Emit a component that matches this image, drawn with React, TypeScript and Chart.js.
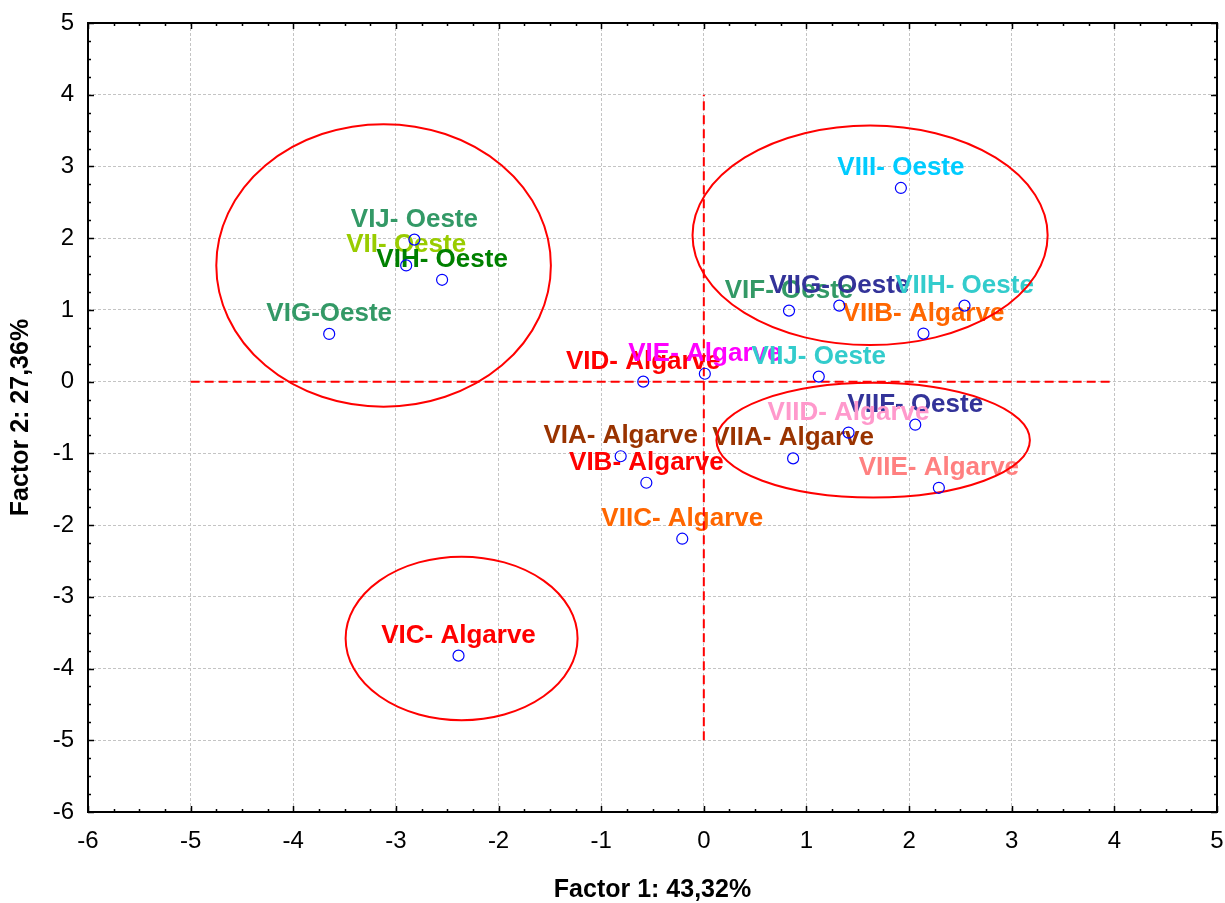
import React, { useEffect, useRef } from "react";
import { Chart, registerables } from "chart.js";

Chart.register(...registerables);

const pointLabels = [
  "VIG-Oeste", "VIJ- Oeste", "VII- Oeste", "VIH- Oeste", "VIC- Algarve",
  "VIA- Algarve", "VIB- Algarve", "VIIC- Algarve", "VID- Algarve", "VIE- Algarve",
  "VIIJ- Oeste", "VIF- Oeste", "VIIG- Oeste", "VIIH- Oeste", "VIIB- Algarve",
  "VIII- Oeste", "VIIF- Oeste", "VIID- Algarve", "VIIA- Algarve", "VIIE- Algarve",
];
const factor1 = [
  -3.65, -2.82, -2.90, -2.55, -2.39,
  -0.81, -0.56, -0.21, -0.59, 0.01,
  1.12, 0.83, 1.32, 2.54, 2.14,
  1.92, 2.06, 1.41, 0.87, 2.29,
];
const factor2 = [
  0.665, 1.98, 1.62, 1.42, -3.82,
  -1.04, -1.41, -2.19, 0.0, 0.11,
  0.07, 0.99, 1.06, 1.06, 0.67,
  2.70, -0.60, -0.71, -1.07, -1.48,
];
const labelColors = [
  "#339966", "#339966", "#99CC00", "#008000", "#FF0000",
  "#993300", "#FF0000", "#FF6600", "#FF0000", "#FF00FF",
  "#33CCCC", "#339966", "#333399", "#33CCCC", "#FF6600",
  "#00CCFF", "#333399", "#FF99CC", "#993300", "#FF8080",
];

// Cluster ellipses (data units)
const ellipseCX = [-3.12, 1.62, 1.65, -2.36];
const ellipseCY = [1.62, 2.04, -0.816, -3.58];
const ellipseRX = [1.63, 1.73, 1.527, 1.13];
const ellipseRY = [1.97, 1.53, 0.80, 1.14];

// Reference dashed axes lines
const hLineY = 0;
const hLineX = [-5, 4];
const vLineX = 0;
const vLineY = [-5, 4];

const xMin = -6, xMax = 5, yMin = -6, yMax = 5;
const xTitle = "Factor 1: 43,32%";
const yTitle = "Factor 2: 27,36%";

const FONT = "'Liberation Sans', Arial, Helvetica, sans-serif";

const overlayPlugin = {
  id: "overlay",
  beforeDatasetsDraw(chart: any) {
    const { ctx } = chart;
    const xs = chart.scales.x;
    const ys = chart.scales.y;
    ctx.save();
    ctx.font = `bold 26px ${FONT}`;
    ctx.textAlign = "center";
    ctx.textBaseline = "alphabetic";
    for (let i = 0; i < pointLabels.length; i++) {
      const px = xs.getPixelForValue(factor1[i]);
      const py = ys.getPixelForValue(factor2[i]);
      ctx.fillStyle = labelColors[i];
      ctx.fillText(pointLabels[i], px, py - 13);
    }
    ctx.strokeStyle = "#FF0000";
    ctx.lineWidth = 2;
    ctx.setLineDash([9, 5]);
    ctx.beginPath();
    ctx.moveTo(xs.getPixelForValue(hLineX[0]), ys.getPixelForValue(hLineY));
    ctx.lineTo(xs.getPixelForValue(hLineX[1]), ys.getPixelForValue(hLineY));
    ctx.stroke();
    ctx.beginPath();
    ctx.moveTo(xs.getPixelForValue(vLineX), ys.getPixelForValue(vLineY[0]));
    ctx.lineTo(xs.getPixelForValue(vLineX), ys.getPixelForValue(vLineY[1]));
    ctx.stroke();
    ctx.setLineDash([]);
    for (let i = 0; i < ellipseCX.length; i++) {
      const cx = xs.getPixelForValue(ellipseCX[i]);
      const cy = ys.getPixelForValue(ellipseCY[i]);
      const rx = Math.abs(xs.getPixelForValue(ellipseCX[i] + ellipseRX[i]) - cx);
      const ry = Math.abs(ys.getPixelForValue(ellipseCY[i] + ellipseRY[i]) - cy);
      ctx.beginPath();
      ctx.ellipse(cx, cy, rx, ry, 0, 0, Math.PI * 2);
      ctx.stroke();
    }
    ctx.restore();
  },
  afterDraw(chart: any) {
    const { ctx, chartArea } = chart;
    const { left, right, top, bottom } = chartArea;
    const xs = chart.scales.x;
    const ys = chart.scales.y;
    ctx.save();
    ctx.strokeStyle = "#000";
    ctx.lineWidth = 2;
    ctx.strokeRect(left, top, right - left, bottom - top);
    ctx.lineWidth = 1.5;
    ctx.beginPath();
    for (let i = xMin * 4; i <= xMax * 4; i++) {
      const v = i / 4;
      const len = i % 4 === 0 ? 6 : 3;
      const p = Math.round(xs.getPixelForValue(v)) + 0.5;
      ctx.moveTo(p, bottom);
      ctx.lineTo(p, bottom - len);
      ctx.moveTo(p, top);
      ctx.lineTo(p, top + len);
    }
    for (let i = yMin * 4; i <= yMax * 4; i++) {
      const v = i / 4;
      const len = i % 4 === 0 ? 6 : 3;
      const p = Math.round(ys.getPixelForValue(v)) + 0.5;
      ctx.moveTo(left, p);
      ctx.lineTo(left + len, p);
      ctx.moveTo(right, p);
      ctx.lineTo(right - len, p);
    }
    ctx.stroke();
    ctx.restore();
  },
};

export default function App() {
  const canvasRef = useRef<HTMLCanvasElement>(null);
  useEffect(() => {
    if (!canvasRef.current) return;
    const data = factor1.map((x, i) => ({ x, y: factor2[i] }));
    const chart = new Chart(canvasRef.current, {
      type: "scatter",
      data: {
        datasets: [
          {
            data,
            pointStyle: "circle",
            pointRadius: 5.5,
            pointBorderWidth: 1.2,
            pointBorderColor: "#0000FF",
            pointBackgroundColor: "rgba(0,0,0,0)",
          },
        ],
      },
      options: {
        responsive: false,
        animation: false,
        layout: { padding: { left: 0, right: 8, top: 23, bottom: 0 } },
        plugins: { legend: { display: false }, tooltip: { enabled: false } },
        scales: {
          x: {
            type: "linear",
            min: xMin,
            max: xMax,
            afterFit: (s: any) => {
              s.height = 91;
              s.paddingLeft = 0;
              s.paddingRight = 0;
            },
            ticks: {
              stepSize: 1,
              padding: 15,
              color: "#000",
              font: { family: FONT, size: 24 },
            },
            grid: { color: "#c4c4c4", lineWidth: 1, drawTicks: false },
            border: { display: false, dash: [3, 2] },
            title: {
              display: true,
              text: xTitle,
              color: "#000",
              font: { family: FONT, size: 25, weight: "bold", lineHeight: 1 },
              padding: { top: 0, bottom: 0 },
            },
          },
          y: {
            type: "linear",
            min: yMin,
            max: yMax,
            afterFit: (s: any) => {
              s.width = 88;
              s.paddingTop = 0;
              s.paddingBottom = 0;
            },
            ticks: {
              stepSize: 1,
              padding: 14,
              color: "#000",
              font: { family: FONT, size: 24 },
            },
            grid: { color: "#c4c4c4", lineWidth: 1, drawTicks: false },
            border: { display: false, dash: [3, 2] },
            title: {
              display: true,
              text: yTitle,
              color: "#000",
              font: { family: FONT, size: 25, weight: "bold", lineHeight: 1 },
              padding: { top: 9, bottom: 0 },
            },
          },
        },
      },
      plugins: [overlayPlugin],
    });
    return () => chart.destroy();
  }, []);
  return (
    <div style={{ position: "absolute", left: 0, top: 0, width: 1225, height: 903, background: "#fff" }}>
      <canvas ref={canvasRef} width={1225} height={903} style={{ display: "block" }} />
    </div>
  );
}
